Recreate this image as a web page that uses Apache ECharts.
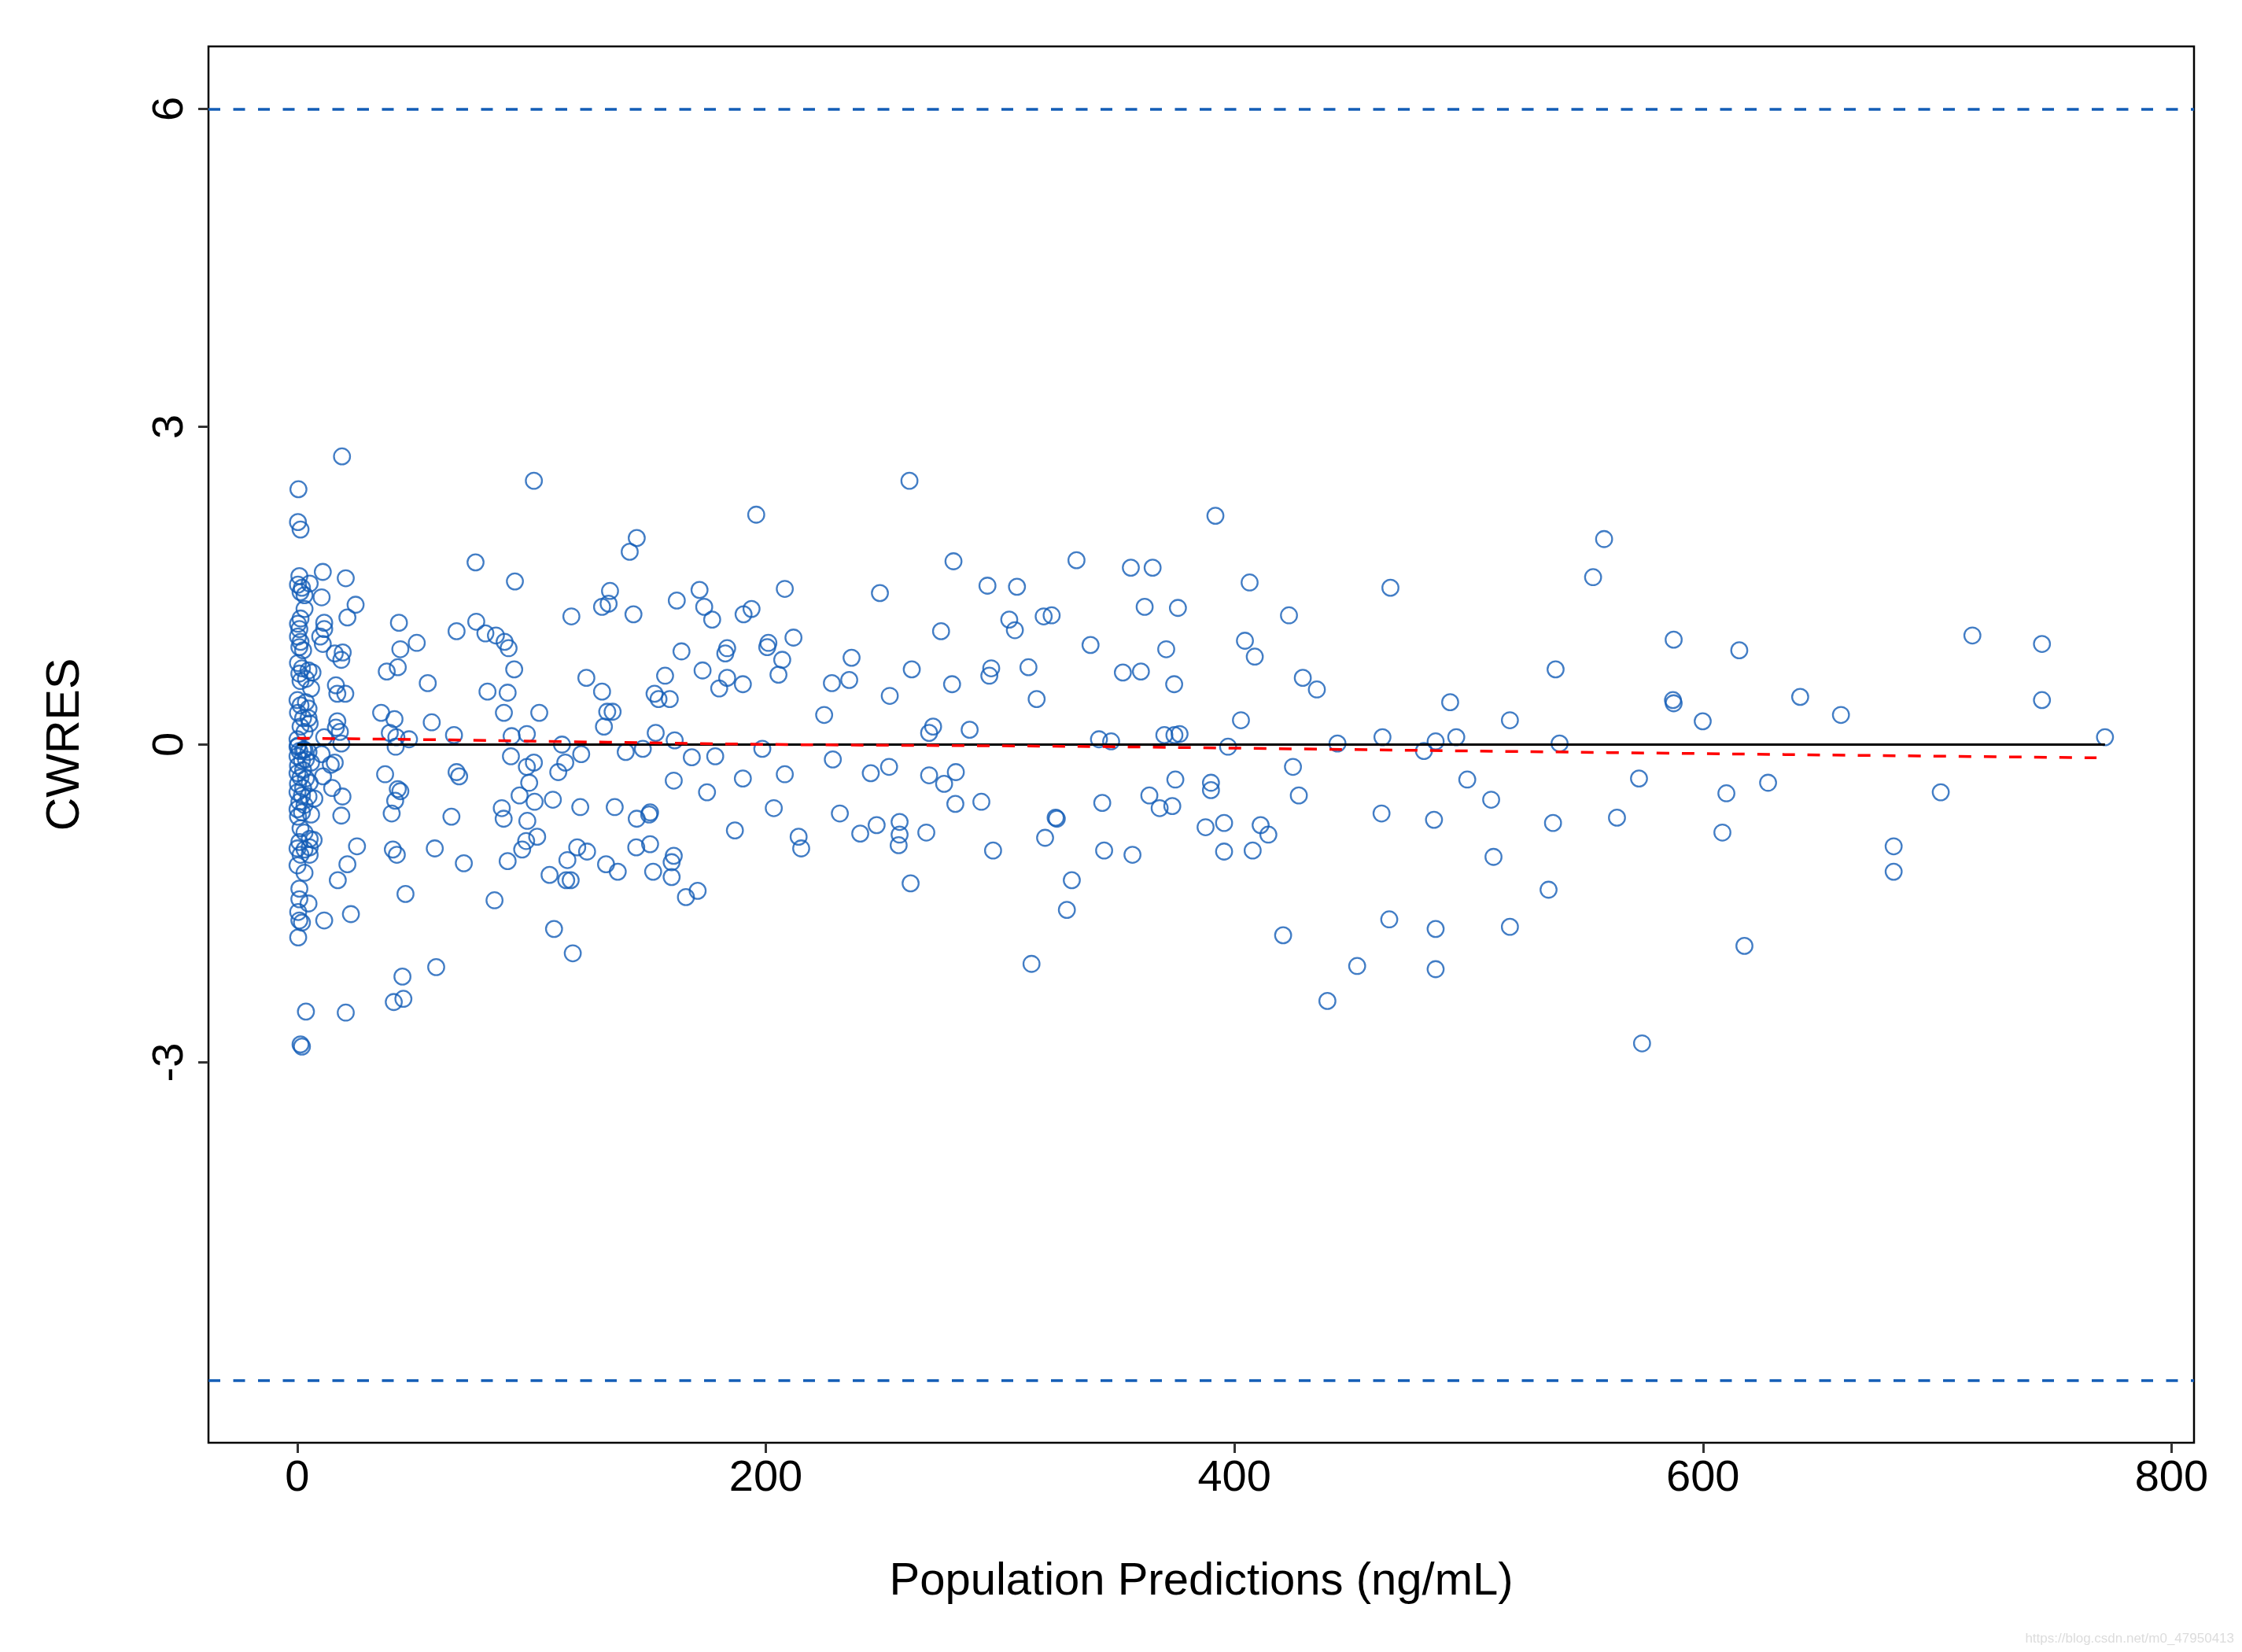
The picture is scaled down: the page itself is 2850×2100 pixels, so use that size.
<!DOCTYPE html>
<html>
<head>
<meta charset="utf-8">
<script src="https://cdn.jsdelivr.net/npm/echarts@6/dist/echarts.min.js"></script>
<style>
html,body{margin:0;padding:0;background:#fff;}
#chart{width:2850px;height:2100px;}
</style>
</head>
<body>
<div id="chart"></div>
<script>
// ---- tick labels / reference values ----
const xTicks = [0, 200, 400, 600, 800];
const yTicks = [-3, 0, 3, 6];
const limitLines = [6, -6];
const xTitle = 'Population Predictions (ng/mL)';
const yTitle = 'CWRES';

// ---- smoothed (lowess) trend: [PRED, CWRES] ----
const trendPoints = [[0,0.06],[65,0.044],[200,0.002],[333,-0.017],[484,-0.056],[635,-0.094],[768,-0.125]];

// ---- observations [PRED, CWRES] ----
const ptsLowExtremes = [[19.1,2.72],[0.5,2.41],[0.3,2.10],[1.4,2.03],[3.7,-2.52],[20.7,-2.53],[1.4,-2.83],[2.0,-2.85]];

const ptsLowUpper = [[10.9,1.63],[20.7,1.57],[0.9,1.59],[0.3,1.51],[2.0,1.48],[5.3,1.52],[1.4,1.44],[3.1,1.41],
  [10.4,1.39],[24.9,1.32],[21.4,1.20],[3.1,1.28],[1.4,1.19],[0.3,1.14],[0.9,1.09],[0.3,1.02],[1.4,0.97],[0.9,0.92],[2.5,0.89],
  [11.5,1.15],[11.5,1.09],[9.8,1.02],[10.9,0.95],[16.0,0.86],[19.4,0.87],[18.8,0.80],
  [0.3,0.77],[2.0,0.72],[0.9,0.67],[4.8,0.70],[6.5,0.68],[1.4,0.60],[3.7,0.62],[5.9,0.53],
  [16.5,0.56],[20.5,0.48],[17.1,0.48],[0.1,0.42],[1.4,0.37],[3.7,0.40],[4.8,0.34],[0.3,0.30],[2.5,0.25],[4.8,0.25],[5.3,0.20],[1.4,0.17],[3.1,0.12],
  [17.1,0.22],[16.5,0.16],[18.2,0.12],[11.5,0.07],[18.8,0.01],[0.1,0.05],[0.3,-0.01],[3.1,-0.05]];

const ptsLowLower = [[10.4,-0.09],[16.0,-0.17],[14.3,-0.19],[11.0,-0.30],[14.9,-0.41],[19.3,-0.49],[18.8,-0.67],[5.9,-0.66],[7.3,-0.51],
  [0.1,-0.02],[0.9,-0.06],[2.5,-0.05],[4.8,-0.07],[0.1,-0.11],[2.0,-0.15],[3.7,-0.14],[5.9,-0.17],[0.3,-0.20],[2.5,-0.24],[0.1,-0.27],
  [1.4,-0.31],[3.7,-0.32],[5.3,-0.36],[0.3,-0.37],[2.5,-0.41],[0.1,-0.45],[2.0,-0.48],[4.8,-0.49],[0.9,-0.54],[3.1,-0.57],[0.1,-0.61],[2.0,-0.64],[0.3,-0.68],
  [25.5,-0.96],[7.0,-0.90],[5.3,-0.97],[0.9,-0.92],[0.1,-0.98],[3.1,-0.99],[1.4,-1.04],[5.3,-1.04],[1.4,-0.79],[3.1,-0.83],[5.3,-0.89],
  [21.4,-1.13],[0.1,-1.14],[3.1,-1.21],[17.3,-1.28],[0.9,-1.36],[0.9,-1.46],[4.8,-1.50],[0.4,-1.58],[0.9,-1.66],[2.0,-1.68],[11.5,-1.66],[22.9,-1.60],[0.4,-1.82]];

const pts30to65 = [[43.4,1.15],[44,0.90],[51,0.96],[42.9,0.73],[38.2,0.69],[55.7,0.58],[35.8,0.30],[41.5,0.24],[57.4,0.21],[39.5,0.11],
  [42.3,0.07],[47.7,0.05],[42,-0.02],[37.5,-0.28],[42.9,-0.42],[44,-0.44],[41.8,-0.53],[40.3,-0.65],[40.8,-0.99],[42.5,-1.04],
  [58.7,-0.98],[46.2,-1.41],[59.3,-2.10],[44.9,-2.19],[41.2,-2.43],[45.3,-2.40]];

const pts65to200 = [[101,2.49],[195.9,2.17],[144.9,1.95],[141.9,1.82],[76.1,1.72],[92.9,1.54],[133.5,1.45],[130.1,1.30],[132.9,1.33],[117,1.21],
  [143.5,1.23],[162,1.36],[171.7,1.46],[173.7,1.30],[177.1,1.18],[190.5,1.23],[193.9,1.28],[68,1.07],[76.4,1.16],[80.3,1.05],
  [84.8,1.03],[88.5,0.97],[90.2,0.91],[92.6,0.71],[164,0.88],[183.5,0.91],[182.7,0.86],[173,0.70],[157,0.65],[183.5,0.63],
  [180.1,0.53],[190.2,0.57],[123.4,0.63],[130.1,0.50],[81.2,0.50],[89.8,0.49],[88.2,0.30],[103.3,0.30],[152.5,0.48],[154.2,0.43],
  [159,0.43],[132.3,0.31],[134.6,0.31],[130.9,0.17],[153,0.11],[66.9,0.09],[91.5,0.08],[98,0.10],[113,0.00],[121.2,-0.09],
  [140.2,-0.07],[147.5,-0.04],[161.1,0.04],[168.4,-0.12],[178.4,-0.11],[91.2,-0.11],[98,-0.21],[101,-0.17],[114.4,-0.17],[111.4,-0.26],
  [68,-0.26],[69.1,-0.30],[99,-0.36],[94.9,-0.48],[101.3,-0.54],[109.1,-0.52],[160.7,-0.34],[174.9,-0.45],[190.2,-0.32],[87.3,-0.60],
  [88.1,-0.70],[65.8,-0.68],[120.8,-0.59],[135.5,-0.59],[144.9,-0.70],[150.2,-0.66],[150.6,-0.64],[98.2,-0.72],[186.8,-0.81],[102.4,-0.87],
  [97.7,-0.91],[96,-0.99],[119.5,-0.97],[123.7,-1.01],[115.3,-1.09],[144.7,-0.97],[150.6,-0.94],[160.7,-1.05],[159.8,-1.11],[159.8,-1.25],
  [71.1,-1.12],[89.8,-1.10],[107.7,-1.23],[114.8,-1.28],[116.7,-1.28],[131.8,-1.13],[136.8,-1.20],[151.9,-1.20],[165.9,-1.44],[170.9,-1.38],
  [84.2,-1.47],[109.6,-1.74],[117.6,-1.97]];

const pts200to335 = [[261.3,2.49],[280.1,1.73],[332.6,1.74],[208.1,1.47],[248.7,1.43],[294.6,1.50],[307.2,1.49],[274.8,1.07],[303.9,1.18],[306.3,1.08],
  [318.6,1.21],[322,1.22],[201.1,0.96],[200.6,0.92],[211.8,1.01],[207,0.80],[205.4,0.66],[236.6,0.82],[228.2,0.58],[235.6,0.61],
  [252.9,0.46],[262.3,0.71],[279.5,0.57],[296.2,0.72],[295.4,0.65],[312.1,0.73],[315.6,0.43],[224.9,0.28],[271.4,0.17],[269.7,0.11],
  [287,0.14],[198.5,-0.04],[228.6,-0.14],[208.1,-0.28],[244.8,-0.27],[252.6,-0.21],[269.7,-0.29],[276.1,-0.37],[281.1,-0.26],[203.4,-0.60],
  [231.6,-0.65],[247.3,-0.76],[240.3,-0.84],[257.1,-0.73],[257.1,-0.85],[256.7,-0.95],[268.5,-0.83],[280.9,-0.56],[292,-0.54],[214,-0.87],
  [215.1,-0.98],[297,-1.00],[323.7,-0.69],[324.2,-0.70],[319.2,-0.88],[261.8,-1.31],[330.6,-1.28],[328.5,-1.56],[313.4,-2.07]];

const pts335to490 = [[391.9,2.16],[355.8,1.67],[365.1,1.67],[406.5,1.53],[466.6,1.48],[361.7,1.30],[375.9,1.29],[423.3,1.22],[338.6,0.94],[370.9,0.90],
  [404.5,0.98],[408.7,0.83],[352.4,0.68],[360.1,0.69],[374.3,0.57],[429.2,0.63],[435.2,0.52],[402.8,0.23],[342.2,0.05],[347.4,0.03],
  [370.1,0.09],[374.4,0.09],[376.6,0.10],[397.3,-0.02],[444,0.01],[463.2,0.07],[480.9,-0.06],[485.9,0.03],[425,-0.21],[374.8,-0.33],
  [390,-0.36],[390,-0.43],[343.6,-0.55],[363.7,-0.48],[368.1,-0.60],[373.5,-0.58],[427.5,-0.48],[387.7,-0.78],[395.6,-0.74],[411.2,-0.76],
  [414.5,-0.85],[462.8,-0.65],[485.2,-0.71],[344.4,-1.00],[356.5,-1.04],[395.6,-1.01],[407.8,-1.00],[420.8,-1.80],[466.1,-1.65],[485.9,-1.74],
  [452.4,-2.09],[485.9,-2.12],[439.7,-2.42]];

const pts490to640 = [[557.8,1.94],[553.1,1.58],[587.5,0.99],[615.5,0.89],[537.1,0.71],[492.1,0.40],[517.6,0.23],[587.2,0.42],[587.5,0.39],[599.9,0.22],
  [494.7,0.07],[538.8,0.01],[499.4,-0.33],[509.6,-0.52],[536,-0.74],[563.3,-0.69],[572.7,-0.32],[610,-0.46],[627.8,-0.36],[608.3,-0.83],
  [510.6,-1.06],[534.1,-1.37],[517.6,-1.72],[617.7,-1.90],[574,-2.82]];

const pts640to780 = [[641.5,0.45],[658.9,0.28],[715,1.03],[744.7,0.95],[744.7,0.42],[771.6,0.07],[701.5,-0.45],[681.4,-0.96],[681.4,-1.20]];

const observations = [].concat(ptsLowExtremes, ptsLowUpper, ptsLowLower, pts30to65, pts65to200, pts200to335, pts335to490, pts490to640, pts640to780);
const predValues = observations.map(p => p[0]);
const zeroLine = [[Math.min.apply(null, predValues), 0], [Math.max.apply(null, predValues), 0]];

const FONT = '"Liberation Sans", Arial, sans-serif';
const BLUE = '#135DB6';

const chart = echarts.init(document.getElementById('chart'), null, {renderer: 'canvas'});
chart.setOption({
  animation: false,
  backgroundColor: '#ffffff',
  grid: {left: 265, right: 61, top: 59, bottom: 266, show: true, borderColor: '#000', borderWidth: 2.5, backgroundColor: 'transparent', containLabel: false, outerBoundsMode: 'none'},
  xAxis: {
    type: 'value', min: -37.9, max: 809.6,
    name: xTitle, nameLocation: 'middle', nameGap: 148,
    nameTextStyle: {fontFamily: FONT, fontSize: 58, color: '#000'},
    axisLine: {show: false, onZero: false},
    axisTick: {show: true, customValues: xTicks, length: 13, lineStyle: {color: '#333', width: 3}},
    axisLabel: {show: true, customValues: xTicks, fontFamily: FONT, fontSize: 56, color: '#000', margin: 18},
    splitLine: {show: false}
  },
  yAxis: {
    type: 'value', min: -6.59, max: 6.59,
    name: yTitle, nameLocation: 'middle', nameGap: 152,
    nameTextStyle: {fontFamily: FONT, fontSize: 59, color: '#000'},
    axisLine: {show: false, onZero: false},
    axisTick: {show: true, customValues: yTicks, length: 13, lineStyle: {color: '#333', width: 3}},
    axisLabel: {show: true, customValues: yTicks, rotate: 90, fontFamily: FONT, fontSize: 56, color: '#000', margin: 20},
    splitLine: {show: false}
  },
  series: [
    {
      type: 'scatter', data: observations, symbol: 'circle', symbolSize: 20.5, z: 2,
      itemStyle: {color: 'rgba(0,0,0,0)', borderColor: BLUE, borderWidth: 2.3},
      markLine: {
        silent: true, animation: false, symbol: ['none', 'none'], label: {show: false},
        lineStyle: {color: BLUE, width: 3.5, type: [15, 16.5]},
        emphasis: {disabled: true},
        data: limitLines.map(v => ({yAxis: v}))
      }
    },
    {type: 'line', data: zeroLine, symbol: 'none', z: 3, lineStyle: {color: '#000', width: 3}},
    {type: 'line', data: trendPoints, symbol: 'none', smooth: 0.3, z: 4, lineStyle: {color: '#FF0000', width: 3.5, type: [16, 16]}}
  ],
  graphic: [{
    type: 'text', right: 10, bottom: 8,
    style: {text: 'https://blog.csdn.net/m0_47950413', fill: '#dcdcdc', font: '17px "Liberation Sans", Arial, sans-serif'}
  }]
});
</script>
</body>
</html>
